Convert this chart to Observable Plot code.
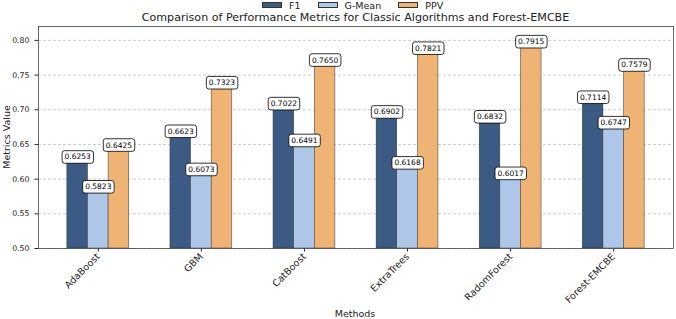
<!DOCTYPE html>
<html>
<head>
<meta charset="utf-8">
<script src="https://cdn.jsdelivr.net/npm/d3@7"></script>
<script src="https://cdn.jsdelivr.net/npm/@observablehq/plot@0.6"></script>
<style>
  body { margin: 0; background: white; }
  #fig { position: relative; width: 676px; height: 319px; background: white; font-family: "DejaVu Sans", sans-serif; color: #222; overflow: hidden; }
  #legend { position: absolute; top: 0; left: 262px; height: 10px; display: flex; align-items: center; font-size: 9.5px; }
  #legend .item { display: flex; align-items: center; margin-right: 17px; }
  #legend .sw { width: 20px; height: 6px; margin-right: 7px; box-sizing: border-box; border: 0.6px solid #333; }
  #title { position: absolute; top: 12px; left: 38px; width: 635px; text-align: center; font-size: 11.1px; line-height: 11px; white-space: nowrap; }
  #chart { position: absolute; top: 24px; left: 0; }
  #ylabel { position: absolute; left: 6px; top: 137px; transform: translate(-50%, -50%) rotate(-90deg); font-size: 9.5px; white-space: nowrap; }
  #xlabel { position: absolute; left: 355px; top: 313px; transform: translate(-50%, -50%); font-size: 9.5px; white-space: nowrap; }
</style>
</head>
<body>
<div id="fig">
  <div id="legend"></div>
  <div id="title">Comparison of Performance Metrics for Classic Algorithms and Forest-EMCBE</div>
  <div id="chart"></div>
  <div id="ylabel">Metrics Value</div>
  <div id="xlabel">Methods</div>
</div>
<script>
// Methods compared and their scores
const methods = ["AdaBoost", "GBM", "CatBoost", "ExtraTrees", "RadomForest", "Forest-EMCBE"];
const f1    = [0.6253, 0.6623, 0.7022, 0.6902, 0.6832, 0.7114];
const gMean = [0.5823, 0.6073, 0.6491, 0.6168, 0.6017, 0.6747];
const ppv   = [0.6425, 0.7323, 0.7650, 0.7821, 0.7915, 0.7579];

const metrics = ["F1", "G-Mean", "PPV"];
const colors = ["#3b5a84", "#aec7e8", "#efb475"];
const yTicks = [0.50, 0.55, 0.60, 0.65, 0.70, 0.75, 0.80];
const yDomain = [0.50, 0.82];

// Grouped bar layout: each bar is 0.2 wide, the three sit side by side around the group index
const barWidth = 0.2;
const series = [f1, gMean, ppv];
const rows = methods.flatMap((m, i) =>
  series.map((s, j) => ({method: m, metric: metrics[j], value: s[i], pos: i + (j - 1) * barWidth}))
);

// x extent with a 5% margin around the outermost bars
const lo = -1.5 * barWidth, hi = methods.length - 1 + 1.5 * barWidth;
const pad = 0.05 * (hi - lo);

const chart = Plot.plot({
  width: 676,
  height: 295,
  marginLeft: 38,
  marginRight: 3,
  marginTop: 2,
  marginBottom: 71,
  style: {background: "white", fontFamily: "DejaVu Sans, sans-serif", fontSize: "7.8px", color: "#222", overflow: "visible"},
  x: {
    domain: [lo - pad, hi + pad],
    ticks: d3.range(methods.length),
    tickFormat: i => methods[i],
    tickRotate: -45,
    tickSize: 3.5,
    tickPadding: 3,
    label: null
  },
  y: {
    domain: yDomain,
    ticks: yTicks,
    tickFormat: d3.format(".2f"),
    tickSize: 3.5,
    label: null
  },
  color: {domain: metrics, range: colors},
  marks: [
    Plot.ruleY(yTicks, {stroke: "#b8b8b8", strokeWidth: 0.7, strokeDasharray: "3,2"}),
    Plot.rectY(rows, {
      x1: d => d.pos - barWidth / 2,
      x2: d => d.pos + barWidth / 2,
      y1: () => yDomain[0],
      y2: "value",
      fill: "metric",
      stroke: "#333",
      strokeWidth: 0.5
    }),
    Plot.text(rows, {
      x: "pos",
      y: "value",
      text: d => d.value.toFixed(4),
      dy: -4.5,
      fontSize: 7.5,
      fill: "black"
    }),
    Plot.frame({stroke: "#444", strokeWidth: 0.8})
  ]
});

document.getElementById("chart").appendChild(chart);

// Larger method names on the x axis
chart.querySelectorAll("text").forEach(t => {
  if (methods.includes(t.textContent)) t.setAttribute("font-size", "9.5");
});

// Rounded white boxes behind the value labels
chart.querySelectorAll("text").forEach(t => {
  if (!/^\d\.\d{4}$/.test(t.textContent)) return;
  const bb = t.getBBox();
  const r = document.createElementNS("http://www.w3.org/2000/svg", "rect");
  r.setAttribute("x", bb.x - 2.5);
  r.setAttribute("y", bb.y - 1.8);
  r.setAttribute("width", bb.width + 5);
  r.setAttribute("height", bb.height + 3.6);
  r.setAttribute("rx", 2.5);
  r.setAttribute("fill", "white");
  r.setAttribute("stroke", "black");
  r.setAttribute("stroke-width", 0.8);
  if (t.getAttribute("transform")) r.setAttribute("transform", t.getAttribute("transform"));
  t.parentNode.insertBefore(r, t);
});

// Legend row
const legend = document.getElementById("legend");
metrics.forEach((m, j) => {
  const item = document.createElement("div");
  item.className = "item";
  const sw = document.createElement("span");
  sw.className = "sw";
  sw.style.background = colors[j];
  const label = document.createElement("span");
  label.textContent = m;
  item.append(sw, label);
  legend.appendChild(item);
});
</script>
</body>
</html>
